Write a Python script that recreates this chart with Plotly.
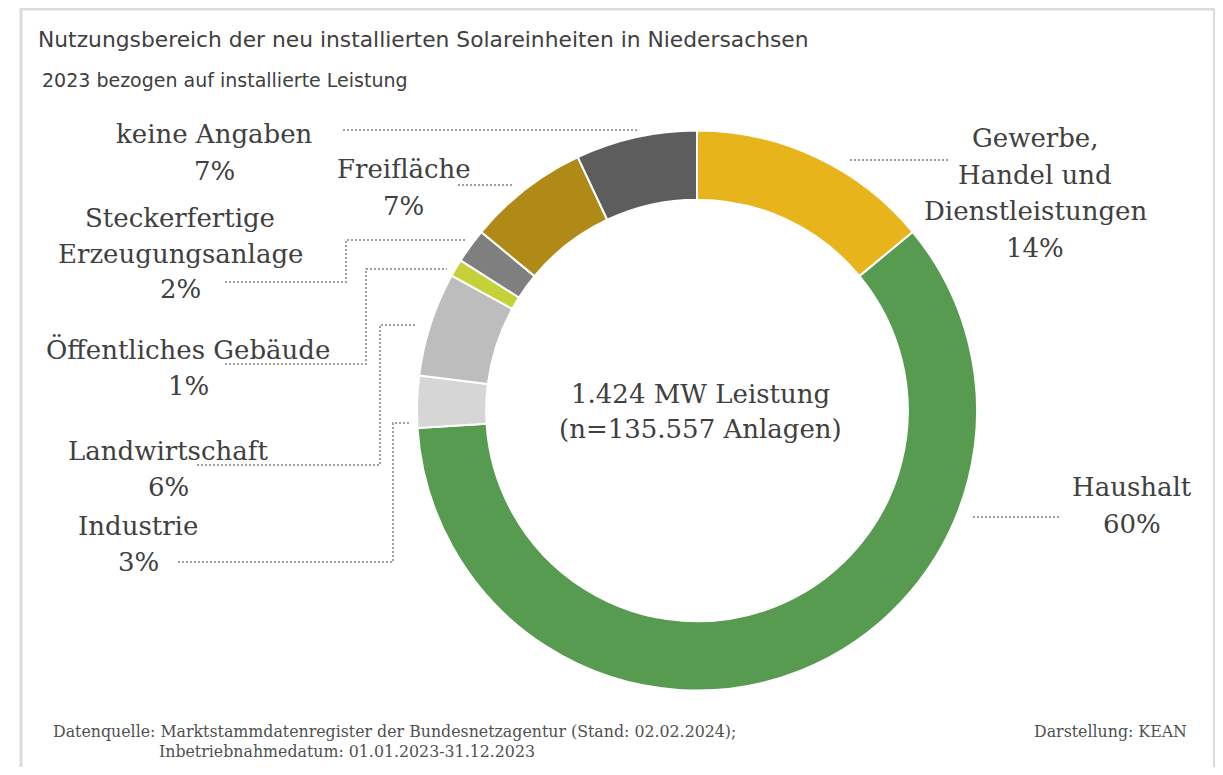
import plotly.graph_objects as go

# ---------------- data ----------------
categories = [
    "Gewerbe, Handel und Dienstleistungen",
    "Haushalt",
    "Industrie",
    "Landwirtschaft",
    "Öffentliches Gebäude",
    "Steckerfertige Erzeugungsanlage",
    "Freifläche",
    "keine Angaben",
]
shares = [14, 60, 3, 6, 1, 2, 7, 7]  # % of installed capacity
slice_colors = ["#E8B41B", "#579B50", "#D6D6D6", "#BDBDBD",
                "#C5D13A", "#7F7F7F", "#B08A17", "#5D5D5D"]
label_lines = [
    ["Gewerbe,", "Handel und", "Dienstleistungen"],
    ["Haushalt"],
    ["Industrie"],
    ["Landwirtschaft"],
    ["Öffentliches Gebäude"],
    ["Steckerfertige", "Erzeugungsanlage"],
    ["Freifläche"],
    ["keine Angaben"],
]
center_lines = ["1.424 MW Leistung", "(n=135.557 Anlagen)"]
title_text = "Nutzungsbereich der neu installierten Solareinheiten in Niedersachsen"
subtitle_text = "2023 bezogen auf installierte Leistung"
source_line1 = "Datenquelle: Marktstammdatenregister der Bundesnetzagentur (Stand: 02.02.2024);"
source_line2 = "Inbetriebnahmedatum: 01.01.2023-31.12.2023"
credit_text = "Darstellung: KEAN"

# ---------------- layout helpers (page pixels -> paper) ----------------
W, H = 1207, 759
OFF = 8  # default body margin of the page


def fx(px):
    return (px - OFF) / W


def fy(py):
    return 1 - (py - OFF) / H


SERIF = "DejaVu Serif"
SANS = "DejaVu Sans"
TXT = "#404040"
LBL_SIZE = 26
TITLE_SIZE = 21.8
SUB_SIZE = 19

# label block placement: (center x, first baseline, line step)
label_pos = [
    (1035, 147, 36.7),
    (1132, 496, 37),
    (138, 535, 36),
    (168, 460, 36),
    (188, 358, 37),
    (180, 227, 35.5),
    (404, 178, 37),
    (214, 143, 37),
]
leader_paths = [
    [(850, 160), (950, 160)],
    [(973, 517), (1059, 517)],
    [(178, 562), (393, 562), (393, 423), (410, 423)],
    [(197, 465), (380, 465), (380, 325), (415, 325)],
    [(225, 364), (366, 364), (366, 269), (447, 269)],
    [(225, 282), (346, 282), (346, 240), (465, 240)],
    [(458, 185), (512, 185)],
    [(343, 130), (637, 130)],
]

# pie geometry (page pixels)
PCX, PCY, PR = 697, 410.5, 280

fig = go.Figure()
fig.add_trace(go.Pie(
    labels=categories,
    values=shares,
    sort=False,
    direction="clockwise",
    rotation=0,
    hole=0.753,
    marker=dict(colors=slice_colors, line=dict(color="white", width=2)),
    textinfo="none",
    hoverinfo="label+percent",
    showlegend=False,
    domain=dict(x=[fx(PCX - PR), fx(PCX + PR)], y=[fy(PCY + PR), fy(PCY - PR)]),
))

annotations = []
shapes = []

# frame
shapes.append(dict(type="rect", xref="paper", yref="paper",
                   x0=fx(21), x1=fx(1214.5), y0=fy(800), y1=fy(9),
                   line=dict(color="#DCDCDC", width=3), fillcolor="rgba(0,0,0,0)",
                   layer="below"))

# title / subtitle
annotations.append(dict(text=title_text, x=fx(36), y=fy(47 - 0.346 * TITLE_SIZE),
                        xref="paper", yref="paper",
                        xanchor="left", yanchor="middle", showarrow=False,
                        font=dict(family=SANS, size=TITLE_SIZE, color=TXT)))
annotations.append(dict(text=subtitle_text, x=fx(40), y=fy(87 - 0.346 * SUB_SIZE),
                        xref="paper", yref="paper",
                        xanchor="left", yanchor="middle", showarrow=False,
                        font=dict(family=SANS, size=SUB_SIZE, color=TXT)))

# slice labels
for lines, share, (cx, base, step) in zip(label_lines, shares, label_pos):
    all_lines = lines + [f"{share}%"]
    for i, ln in enumerate(all_lines):
        b = base + i * step
        annotations.append(dict(text=ln, x=fx(cx), y=fy(b - 0.346 * LBL_SIZE),
                                xref="paper", yref="paper", xanchor="center",
                                yanchor="middle", showarrow=False,
                                font=dict(family=SERIF, size=LBL_SIZE, color=TXT)))

# leader lines
for pts in leader_paths:
    path = "M " + " L ".join(f"{fx(x):.5f},{fy(y):.5f}" for x, y in pts)
    shapes.append(dict(type="path", xref="paper", yref="paper", path=path,
                       line=dict(color="#A0A0A0", width=2, dash="2px,2px")))

# center text
for i, ln in enumerate(center_lines):
    b = 403 + i * 35
    annotations.append(dict(text=ln, x=fx(700), y=fy(b - 0.346 * LBL_SIZE),
                            xref="paper", yref="paper", xanchor="center",
                            yanchor="middle", showarrow=False,
                            font=dict(family=SERIF, size=LBL_SIZE, color=TXT)))

# footer
FS = 15.8
annotations.append(dict(text=source_line1, x=fx(51), y=fy(737 - 0.346 * FS),
                        xref="paper", yref="paper", xanchor="left", yanchor="middle",
                        showarrow=False, font=dict(family=SERIF, size=FS, color="#505050")))
annotations.append(dict(text=source_line2, x=fx(157), y=fy(757 - 0.346 * FS),
                        xref="paper", yref="paper", xanchor="left", yanchor="middle",
                        showarrow=False, font=dict(family=SERIF, size=FS, color="#505050")))
annotations.append(dict(text=credit_text, x=fx(1189), y=fy(737 - 0.346 * FS),
                        xref="paper", yref="paper", xanchor="right", yanchor="middle",
                        showarrow=False, font=dict(family=SERIF, size=FS, color="#505050")))

fig.update_layout(
    width=W, height=H,
    margin=dict(l=0, r=0, t=0, b=0),
    paper_bgcolor="white",
    plot_bgcolor="white",
    annotations=annotations,
    shapes=shapes,
)

fig.write_html("out.html")
